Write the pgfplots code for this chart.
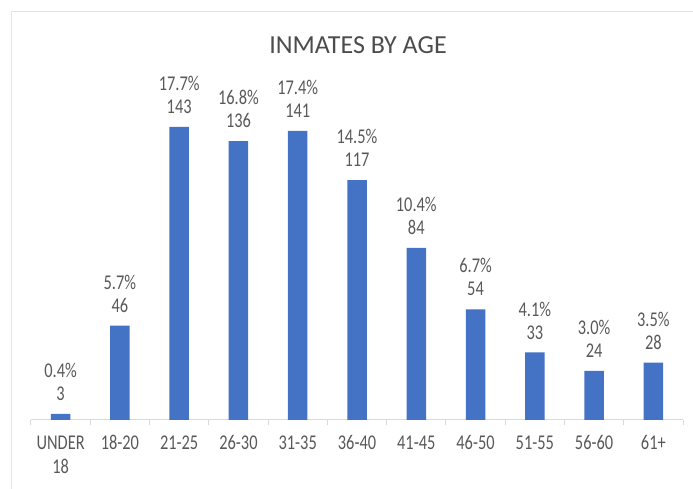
\documentclass[border=0pt]{standalone}
\usepackage{fontspec}
\setmainfont{Carlito}
\newfontfamily\lbl[FakeStretch=0.78]{Carlito}
\usepackage{pgfplots}
\pgfplotsset{compat=1.18}
\definecolor{barblue}{HTML}{4472C4}
\definecolor{txtgray}{HTML}{595959}
\definecolor{axgray}{HTML}{D9D9D9}
\begin{document}
\begin{tikzpicture}
\useasboundingbox (0,0) rectangle (693pt,489pt);
\draw[axgray!70, line width=1pt] (11pt,0) -- (11pt,477pt) -- (693pt,477pt);
\node[anchor=base, text=txtgray!85!black, font=\fontsize{26}{30}\selectfont] at (358pt,435pt) {INMATES BY AGE};
\begin{axis}[
  at={(31pt,69pt)}, anchor=south west,
  scale only axis, width=652pt, height=328pt,
  xmin=-0.5, xmax=10.5, ymin=0, ymax=160,
  axis y line=none, axis x line*=bottom,
  axis line style={axgray, line width=1pt},
  ybar, bar width=19.5pt,
  xtick={0,...,10},
  xticklabels={{UNDER\\18},18-20,21-25,26-30,31-35,36-40,41-45,46-50,51-55,56-60,61+},
  minor xtick={-0.5,0.5,...,10.5},
  major tick length=0pt, minor tick length=5pt,
  tick align=outside, tick style={axgray, line width=1pt},
  xticklabel style={align=center, text=txtgray, font=\lbl\fontsize{21}{24}\selectfont, yshift=-12pt},
  point meta=explicit symbolic,
  nodes near coords,
  every node near coord/.append style={align=center, text=txtgray, font=\lbl\fontsize{21}{23}\selectfont, inner sep=0pt, yshift=13pt},
]
\addplot[fill=barblue, draw=none] coordinates {
  (0,3) [0.4\%\\3]
  (1,46) [5.7\%\\46]
  (2,143) [17.7\%\\143]
  (3,136) [16.8\%\\136]
  (4,141) [17.4\%\\141]
  (5,117) [14.5\%\\117]
  (6,84) [10.4\%\\84]
  (7,54) [6.7\%\\54]
  (8,33) [4.1\%\\33]
  (9,24) [3.0\%\\24]
  (10,28) [3.5\%\\28]
};
\end{axis}
\end{tikzpicture}
\end{document}
